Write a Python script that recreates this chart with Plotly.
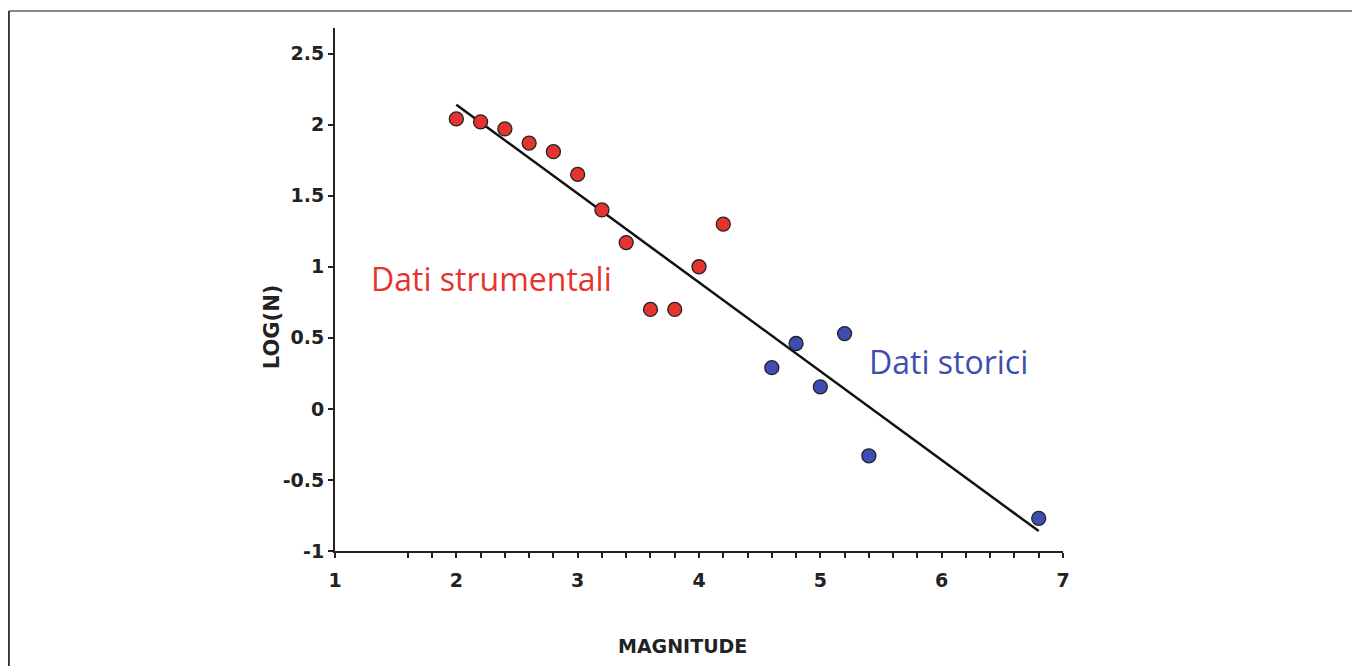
import plotly.graph_objects as go

# Instrumental data (red)
mag_instr = [2.0, 2.2, 2.4, 2.6, 2.8, 3.0, 3.2, 3.4, 3.6, 3.8, 4.0, 4.2]
logn_instr = [2.04, 2.02, 1.97, 1.87, 1.81, 1.65, 1.40, 1.17, 0.70, 0.70, 1.00, 1.30]

# Historical data (blue)
mag_hist = [4.6, 4.8, 5.0, 5.2, 5.4, 6.8]
logn_hist = [0.29, 0.46, 0.155, 0.53, -0.33, -0.77]

# Regression line endpoints
fit_x = [2.0, 6.8]
fit_y = [2.14, -0.86]

x_ticks = [1, 2, 3, 4, 5, 6, 7]
y_ticks = [-1, -0.5, 0, 0.5, 1, 1.5, 2, 2.5]
y_labels = ["-1", "-0.5", "0", "0.5", "1", "1.5", "2", "2.5"]
x_minor = [1.6, 1.8, 2.2, 2.4, 2.6, 2.8, 3.2, 3.4, 3.6, 3.8, 4.2, 4.4, 4.6, 4.8,
           5.2, 5.4, 5.6, 5.8, 6.2, 6.4, 6.6, 6.8]

RED = "#e5342f"
BLUE = "#3f4db3"

fig = go.Figure()
fig.add_trace(go.Scatter(x=fit_x, y=fit_y, mode="lines",
                         line=dict(color="#111111", width=2.5), showlegend=False))
fig.add_trace(go.Scatter(x=mag_instr, y=logn_instr, mode="markers",
                         marker=dict(size=14, color=RED, line=dict(color="#222222", width=1.3)),
                         showlegend=False))
fig.add_trace(go.Scatter(x=mag_hist, y=logn_hist, mode="markers",
                         marker=dict(size=14, color=BLUE, line=dict(color="#222222", width=1.3)),
                         showlegend=False))

BOLD = "DejaVu Sans, sans-serif"
tickfont = dict(family=BOLD, size=19, color="#222222", weight="bold")

fig.update_layout(
    width=1352, height=658,
    margin=dict(l=327, r=297, t=20, b=115),
    paper_bgcolor="white", plot_bgcolor="white",
    xaxis=dict(range=[1, 7], tickvals=x_ticks, ticktext=[str(v) for v in x_ticks],
               showgrid=False, zeroline=False, showline=True, linecolor="#222222", linewidth=2,
               ticks="outside", ticklen=5, tickwidth=2, tickcolor="#222222",
               tickfont=tickfont, ticklabelstandoff=6,
               minor=dict(tickvals=x_minor, ticks="outside", ticklen=5, tickwidth=2,
                          tickcolor="#222222")),
    yaxis=dict(range=[-1, 2.68], tickvals=y_ticks, ticktext=y_labels,
               showgrid=False, zeroline=False, showline=True, linecolor="#222222", linewidth=2,
               ticks="outside", ticklen=5, tickwidth=2, tickcolor="#222222",
               tickfont=tickfont, ticklabelstandoff=0),
    font=dict(family=BOLD),
)

fig.add_annotation(x=0.478, y=-0.182, xref="paper", yref="paper", text="MAGNITUDE",
                   showarrow=False, font=dict(family=BOLD, size=19, color="#222222", weight="bold"),
                   yanchor="middle")
fig.add_annotation(x=-0.0865, y=0.428, xref="paper", yref="paper", text="LOG(N)",
                   showarrow=False, textangle=-90,
                   font=dict(family=BOLD, size=21, color="#222222", weight="bold"),
                   xanchor="center", yanchor="middle")

fig.add_annotation(x=2.29, y=0.92, text="Dati strumentali", showarrow=False,
                   font=dict(family="Open Sans, sans-serif", size=32, color=RED))
fig.add_annotation(x=6.06, y=0.33, text="Dati storici", showarrow=False,
                   font=dict(family="Open Sans, sans-serif", size=32, color=BLUE))

# outer frame (top and left)
fig.add_shape(type="line", xref="paper", yref="paper", x0=-0.448, x1=1.5, y0=1.0325, y1=1.0325,
              line=dict(color="#888888", width=2))
fig.add_shape(type="line", xref="paper", yref="paper", x0=-0.448, x1=-0.448, y0=1.0325, y1=-0.3,
              line=dict(color="#333333", width=2))

fig.write_html("out.html")
